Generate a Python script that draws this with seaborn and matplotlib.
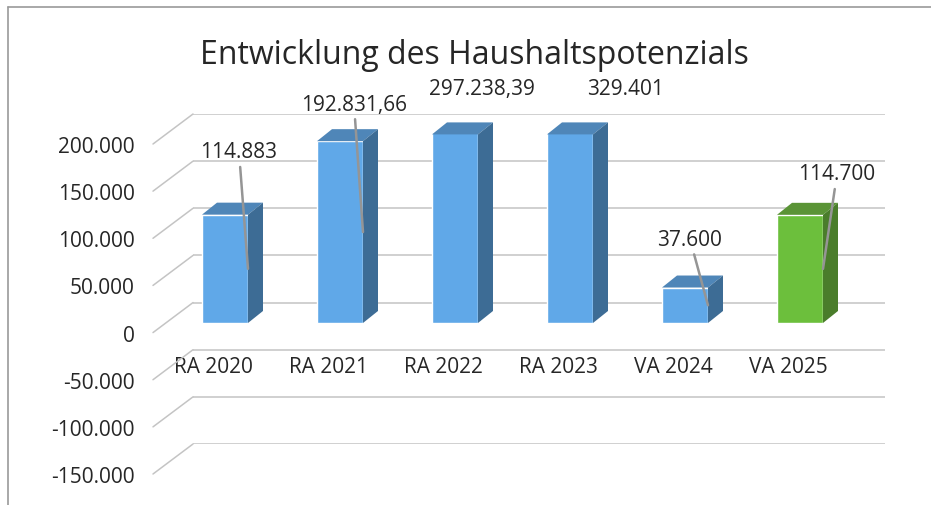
import numpy as np
import pandas as pd
import seaborn as sns
import matplotlib.pyplot as plt
from matplotlib.patches import Polygon, ConnectionPatch
from matplotlib.lines import Line2D

# data
categories = ['RA 2020', 'RA 2021', 'RA 2022', 'RA 2023', 'VA 2024', 'VA 2025']
values = [114883, 192831.66, 297238.39, 329401, 37600, 114700]
value_labels = ['114.883', '192.831,66', '297.238,39', '329.401', '37.600', '114.700']
y_ticks = [-150000, -100000, -50000, 0, 50000, 100000, 150000, 200000]

# label placement (pixels from the leader anchor) and whether a leader line is drawn
label_offsets = [(-9, 117), (-9, 128), (4, 140), (32, 140), (-18, 66), (14, 95)]
show_leader = [True, True, False, False, True, True]

front_colors = ['#60a8e8'] * 5 + ['#6cbf3c']
top_colors = ['#4f86b8'] * 5 + ['#5a9436']
side_colors = ['#3d6c95'] * 5 + ['#4a7d2b']

df = pd.DataFrame({'category': categories, 'value': values})

W, H = 931, 506
sns.set_style("white")
plt.rcParams['font.family'] = ['Open Sans', 'DejaVu Sans']
text_color = '#262626'
grid_color = '#c4c4c4'
ymin, ymax = -150000, 200000


def px_rect(left, top, right, bottom):
    return [left / W, 1 - bottom / H, (right - left) / W, (bottom - top) / H]


fig = plt.figure(figsize=(W / 100, H / 100), dpi=100)

# back wall with gridlines
ax_back = fig.add_axes(px_rect(193, 115, 885, 445))
ax_back.set_xlim(0, 1)
ax_back.set_ylim(ymin, ymax)
ax_back.set_yticks(y_ticks)
ax_back.set_xticks([])
ax_back.tick_params(left=False, labelleft=False)
ax_back.grid(axis='y', color=grid_color, lw=1.1)
for s in ax_back.spines.values():
    s.set_visible(False)
ax_back.patch.set_alpha(0)

# front edge of the left wall, carries the value axis labels
ax_front = fig.add_axes(px_rect(153, 145, 154, 475))
ax_front.set_ylim(ymin, ymax)
ax_front.set_yticks(y_ticks)
ax_front.set_yticklabels([f"{t:,.0f}".replace(',', '.') for t in y_ticks])
ax_front.set_xticks([])
ax_front.tick_params(axis='y', length=0, pad=13, labelsize=15, labelcolor=text_color)
for s in ax_front.spines.values():
    s.set_visible(False)
ax_front.patch.set_alpha(0)

# diagonal lines of the left wall
for t in y_ticks:
    con = ConnectionPatch(xyA=(0, t), coordsA=ax_front.get_yaxis_transform(),
                          xyB=(0, t), coordsB=ax_back.get_yaxis_transform(),
                          color=grid_color, lw=1.1)
    fig.add_artist(con)

# bar plane
ax_bar = fig.add_axes(px_rect(167.5, 135.4, 857.5, 465.4))
sns.barplot(data=df, x='category', y='value', hue='category', order=categories,
            palette=front_colors, width=0.4, legend=False, saturation=1, ax=ax_bar)
ax_bar.set_xlim(-0.5, len(categories) - 0.5)
ax_bar.set_ylim(ymin, ymax)
ax_bar.patch.set_alpha(0)
for s in ax_bar.spines.values():
    s.set_visible(False)
ax_bar.set_yticks([])
ax_bar.set_xlabel(None)
ax_bar.set_ylabel(None)
ax_bar.spines['bottom'].set_position(('data', 0))
ax_bar.set_xticks(np.arange(len(categories)) - 0.1, labels=categories)
ax_bar.tick_params(axis='x', length=0, pad=24, labelsize=15, labelcolor=text_color)

# depth of the bars, given in pixels and converted to data units
bb = ax_bar.get_window_extent()
dx = 15 * (len(categories)) / bb.width
dy = 12 * (ymax - ymin) / bb.height

for i, p in enumerate(ax_bar.patches):
    x0, w = p.get_x(), p.get_width()
    top = min(p.get_height(), ymax)
    top_face = Polygon([(x0, top), (x0 + w, top), (x0 + w + dx, top + dy), (x0 + dx, top + dy)],
                       closed=True, facecolor=top_colors[i], edgecolor='none', clip_on=False)
    side_face = Polygon([(x0 + w, 0), (x0 + w, top), (x0 + w + dx, top + dy), (x0 + w + dx, dy)],
                        closed=True, facecolor=side_colors[i], edgecolor='none', clip_on=False)
    ax_bar.add_patch(top_face)
    ax_bar.add_patch(side_face)

    anchor = (x0 + w, top / 2)
    arrow = dict(arrowstyle='-', color='#959595', lw=1.8, shrinkA=1, shrinkB=0) if show_leader[i] else None
    ax_bar.annotate(value_labels[i], xy=anchor, xytext=label_offsets[i], textcoords='offset pixels',
                    ha='center', va='center', fontsize=15, color=text_color,
                    arrowprops=arrow, annotation_clip=False, zorder=5)

fig.text(474 / W, 1 - 55 / H, 'Entwicklung des Haushaltspotenzials', ha='center', va='center',
         fontsize=23, color=text_color)

# outer frame of the chart area
fig.add_artist(Line2D([8 / W, 8 / W], [0, 1 - 8 / H], transform=fig.transFigure, color='#9a9a9a', lw=1.2))
fig.add_artist(Line2D([8 / W, 1], [1 - 8 / H, 1 - 8 / H], transform=fig.transFigure, color='#9a9a9a', lw=1.2))

plt.savefig('out.png', dpi=100)
